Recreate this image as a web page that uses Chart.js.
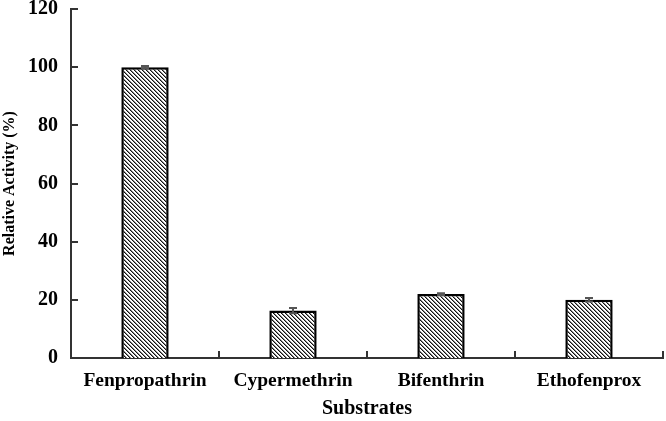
<!DOCTYPE html>
<html>
<head>
<meta charset="utf-8">
<script src="https://cdn.jsdelivr.net/npm/chart.js@4.4.0/dist/chart.umd.min.js"></script>
<style>
    html, body { margin: 0; padding: 0; background: #fff; }
    #chart__holder { width: 666px; height: 421px; }
</style>
</head>
<body>
<div id="chart__holder"><canvas id="activityChart" width="666" height="421"></canvas></div>
<script>
// data
var lsLabel = ['Fenpropathrin', 'Cypermethrin', 'Bifenthrin', 'Ethofenprox'];
var lsActivity = [100, 16.3, 22.0, 20.0];
var lsError = [0.4, 0.9, 0.3, 0.6];
var lsYTicks = [0, 20, 40, 60, 80, 100, 120];

// hatch pattern for the bars
function makeHatch() {
    var c = document.createElement('canvas');
    c.width = 4;
    c.height = 4;
    var g = c.getContext('2d');
    g.fillStyle = '#fff';
    g.fillRect(0, 0, 4, 4);
    g.fillStyle = '#111';
    for (var i = 0; i < 4; i++) {
        g.fillRect(i, i, 1, 1);
    }
    g.fillStyle = '#888';
    for (var i = 0; i < 4; i++) {
        g.fillRect((i + 1) % 4, i, 1, 1);
    }
    return g.createPattern(c, 'repeat');
}

var serif = 'Liberation Serif, Times New Roman, serif';

// error bars + inward ticks
var extraPlugin = {
    id: 'extras',
    afterDatasetsDraw: function (chart) {
        var ctx = chart.ctx;
        var ys = chart.scales.y;
        var meta = chart.getDatasetMeta(0);
        ctx.save();
        ctx.strokeStyle = '#555';
        ctx.lineWidth = 2;
        meta.data.forEach(function (bar, i) {
            var x = bar.x;
            var top = ys.getPixelForValue(lsActivity[i] + lsError[i]);
            var bot = ys.getPixelForValue(lsActivity[i] - lsError[i]);
            ctx.beginPath();
            ctx.moveTo(x, top); ctx.lineTo(x, bot);
            ctx.moveTo(x - 4, top); ctx.lineTo(x + 4, top);
            ctx.moveTo(x - 4, bot); ctx.lineTo(x + 4, bot);
            ctx.stroke();
        });
        ctx.restore();
    },
    afterDraw: function (chart) {
        var ctx = chart.ctx;
        var xs = chart.scales.x;
        var ys = chart.scales.y;
        var area = chart.chartArea;
        ctx.save();
        ctx.strokeStyle = '#333';
        ctx.lineWidth = 2;
        ctx.beginPath();
        // y ticks pointing right
        lsYTicks.forEach(function (v) {
            var y = Math.round(ys.getPixelForValue(v));
            ctx.moveTo(area.left, y);
            ctx.lineTo(area.left + 7, y);
        });
        // x ticks at category boundaries pointing up
        for (var i = 0; i < lsLabel.length; i++) {
            var bx;
            if (i < lsLabel.length - 1) {
                bx = (xs.getPixelForValue(i) + xs.getPixelForValue(i + 1)) / 2;
            } else {
                bx = area.right;
            }
            bx = Math.round(bx);
            ctx.moveTo(bx, area.bottom);
            ctx.lineTo(bx, area.bottom - 7);
        }
        ctx.stroke();
        ctx.restore();
    }
};

var ctx__act = document.getElementById('activityChart');
var activity_Chart = new Chart(ctx__act, {
    type: 'bar',
    data: {
        labels: lsLabel,
        datasets: [
            {
                data: lsActivity,
                backgroundColor: makeHatch(),
                borderColor: '#000',
                borderWidth: 2.5,
                borderSkipped: 'bottom',
                categoryPercentage: 1,
                barPercentage: 0.32
            }
        ]
    },
    options: {
        responsive: false,
        animation: false,
        events: [],
        layout: { padding: { top: 0, right: 3, left: 0, bottom: 0 } },
        plugins: {
            legend: { display: false },
            tooltip: { enabled: false }
        },
        scales: {
            x: {
                grid: { display: false, drawTicks: false },
                border: { display: true, color: '#333', width: 2 },
                ticks: {
                    color: '#000',
                    padding: 11,
                    maxRotation: 0,
                    font: { family: serif, size: 19.5, weight: 'bold' }
                },
                title: {
                    display: true,
                    text: 'Substrates',
                    color: '#000',
                    padding: { top: 0, bottom: 0 },
                    font: { family: serif, size: 20, weight: 'bold' }
                },
                afterFit: function (scale) { scale.height = 63; }
            },
            y: {
                min: 0,
                max: 120,
                grid: { display: false, drawTicks: false },
                border: { display: true, color: '#333', width: 2 },
                ticks: {
                    stepSize: 20,
                    color: '#000',
                    padding: 13,
                    font: { family: serif, size: 20, weight: 'bold' }
                },
                title: {
                    display: true,
                    text: 'Relative Activity (%)',
                    color: '#000',
                    padding: { top: 0, bottom: 3 },
                    font: { family: serif, size: 16, weight: 'bold' }
                },
                afterFit: function (scale) {
                    scale.width = 71;
                    scale.paddingTop = 9;
                    scale.paddingBottom = 0;
                }
            }
        }
    },
    plugins: [extraPlugin]
});
</script>
</body>
</html>
